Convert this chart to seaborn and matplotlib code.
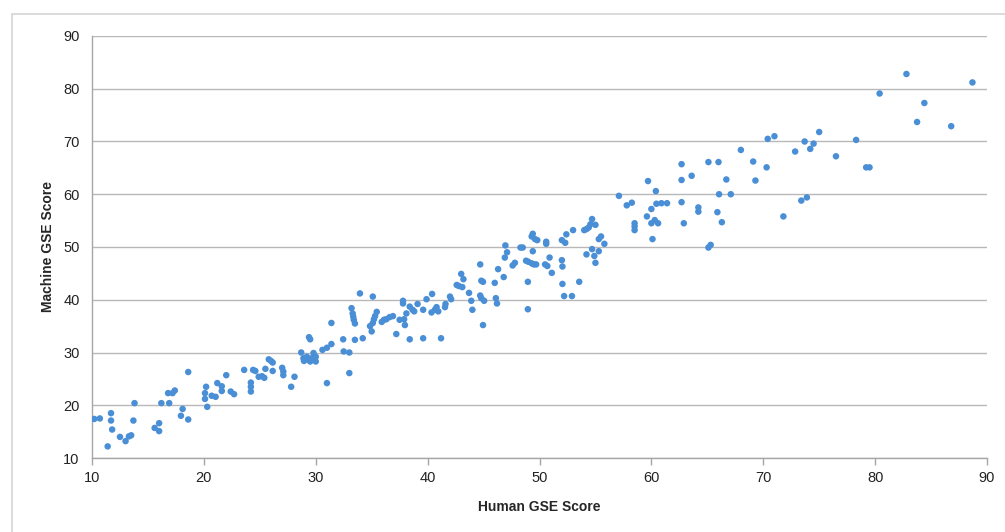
import matplotlib
matplotlib.use("Agg")
import matplotlib.pyplot as plt
import seaborn as sns
import pandas as pd
from matplotlib.patches import Rectangle

human = [
    10.2, 10.7, 11.4, 11.7, 11.7, 11.8, 12.5, 13.0, 13.3, 13.5, 13.7, 13.8,
    15.6, 16.0, 16.0, 16.2, 16.8, 16.9, 17.2, 17.4, 17.95, 18.1, 18.6, 18.6,
    20.1, 20.1, 20.2, 20.3, 20.7, 21.05, 21.2, 21.6, 21.6, 22.0, 22.4, 22.7,
    23.6, 24.2, 24.2, 24.2, 24.4, 24.6, 24.9, 25.2, 25.4, 25.5, 25.8, 26.0,
    26.15, 26.15, 27.0, 27.1, 27.1, 27.8, 28.1, 28.7, 28.9, 28.95, 29.2, 29.3,
    29.5, 29.6, 29.8, 30.0, 30.0, 29.4, 29.5, 30.6, 31.0, 31.4, 31.0, 31.4,
    32.45, 32.5, 33.0, 33.0, 33.2, 33.3, 33.35, 33.4, 33.5, 33.5, 33.95, 34.2,
    35.0, 34.85, 35.1, 35.2, 35.3, 35.45, 35.1, 35.9, 36.1, 36.3, 36.6, 36.9,
    37.2, 37.5, 37.8, 37.8, 37.9, 37.97, 38.1, 38.4, 38.65, 38.4, 38.8, 39.1,
    39.6, 39.6, 39.9, 40.35, 40.4, 40.65, 40.8, 40.95, 41.2, 41.55, 41.6, 42.0,
    42.1, 42.6, 42.8, 43.0, 43.2, 43.1, 43.7, 43.9, 44.0, 44.7, 44.7, 44.8,
    44.95, 44.8, 44.95, 45.05, 46.0, 46.1, 46.2, 46.3, 46.8, 46.9, 46.95, 47.1,
    47.6, 47.8, 48.3, 48.5, 48.8, 49.0, 49.3, 49.5, 49.7, 48.96, 48.96, 49.4,
    49.3, 49.6, 49.4, 49.8, 50.5, 50.7, 50.6, 50.6, 50.9, 51.1, 52.0, 52.3,
    52.4, 52.0, 52.05, 52.05, 52.2, 52.9, 53.0, 53.55, 54.0, 54.2, 54.4, 54.7,
    54.55, 55.0, 54.2, 54.7, 54.9, 55.0, 55.3, 55.5, 55.3, 55.8, 57.1, 57.8,
    58.25, 58.5, 58.5, 58.5, 59.7, 59.6, 60.0, 60.1, 60.0, 60.3, 60.6, 60.4,
    60.45, 60.9, 61.4, 62.7, 62.7, 62.9, 62.7, 63.6, 64.2, 64.2, 65.1, 66.0,
    65.1, 65.3, 65.9, 66.05, 66.3, 66.7, 67.1, 68.0, 69.1, 69.3, 70.3, 70.4,
    71.0, 71.8, 72.85, 73.4, 73.9, 73.7, 74.2, 74.5, 75.0, 76.5, 78.3, 79.2,
    79.5, 80.4, 82.8, 83.75, 84.4, 86.8, 88.7,
]
machine = [
    17.4, 17.5, 12.2, 18.5, 17.1, 15.4, 14.0, 13.2, 14.1, 14.3, 17.1, 20.4,
    15.7, 16.6, 15.1, 20.4, 22.3, 20.4, 22.3, 22.8, 18.0, 19.3, 17.3, 26.3,
    22.3, 21.2, 23.5, 19.7, 21.8, 21.6, 24.2, 23.6, 22.7, 25.7, 22.6, 22.1,
    26.7, 24.3, 23.5, 22.6, 26.7, 26.5, 25.4, 25.5, 25.2, 26.9, 28.7, 28.4,
    28.1, 26.5, 27.1, 26.4, 25.7, 23.5, 25.4, 30.0, 28.9, 28.4, 29.2, 28.7,
    28.3, 28.9, 29.9, 29.2, 28.3, 32.9, 32.5, 30.5, 30.9, 31.6, 24.2, 35.6,
    32.5, 30.2, 30.0, 26.1, 38.4, 37.4, 36.8, 36.2, 35.5, 32.4, 41.2, 32.7,
    34.0, 35.0, 35.6, 36.3, 36.9, 37.7, 40.6, 35.8, 36.2, 36.3, 36.7, 36.9,
    33.5, 36.2, 39.8, 39.3, 36.3, 35.2, 37.4, 38.7, 38.1, 32.5, 37.8, 39.2,
    38.1, 32.7, 40.1, 37.6, 41.1, 38.1, 38.6, 37.8, 32.7, 38.6, 39.2, 40.6,
    40.1, 42.8, 42.6, 44.9, 43.9, 42.4, 41.3, 39.8, 38.1, 46.7, 40.8, 43.6,
    43.4, 40.3, 35.2, 39.8, 43.2, 40.3, 39.3, 45.8, 44.3, 48.0, 50.3, 49.0,
    46.5, 47.0, 49.9, 49.9, 47.4, 47.2, 46.9, 46.7, 46.7, 43.4, 38.2, 52.5,
    52.0, 51.5, 49.2, 51.3, 46.7, 46.4, 51.0, 50.6, 48.0, 45.1, 51.3, 50.8,
    52.4, 47.5, 46.3, 43.0, 40.7, 40.7, 53.2, 43.4, 53.2, 53.4, 53.7, 55.3,
    54.3, 54.2, 48.6, 49.6, 48.3, 47.0, 51.5, 52.0, 49.2, 50.6, 59.7, 57.9,
    58.4, 54.5, 53.9, 53.2, 62.5, 55.8, 57.2, 51.5, 54.5, 55.1, 54.5, 60.6,
    58.2, 58.3, 58.3, 62.7, 58.5, 54.5, 65.7, 63.5, 57.5, 56.7, 66.1, 66.1,
    49.9, 50.4, 56.6, 60.0, 54.7, 62.8, 60.0, 68.4, 66.2, 62.6, 65.1, 70.5,
    71.0, 55.8, 68.1, 58.8, 59.4, 70.0, 68.6, 69.6, 71.8, 67.2, 70.3, 65.1,
    65.1, 79.1, 82.8, 73.7, 77.3, 72.9, 81.2,
]
x_ticks = [10, 20, 30, 40, 50, 60, 70, 80, 90]
y_ticks = [10, 20, 30, 40, 50, 60, 70, 80, 90]

df = pd.DataFrame({"Human GSE Score": human, "Machine GSE Score": machine})

sns.set_style("white")
plt.rcParams['font.family'] = ['Liberation Sans', 'DejaVu Sans']

fig = plt.figure(figsize=(10.05, 5.32), dpi=100)
ax = fig.add_axes([92/1005, (532-458)/532, (987-92)/1005, (458-36)/532])

# outer frame like the original chart border
fig.patches.append(Rectangle((12/1005, -0.05), 1.1, (532-14)/532 + 0.05,
                             transform=fig.transFigure, fill=False,
                             edgecolor='#d4d4d4', linewidth=1.2, zorder=0))

sns.scatterplot(data=df, x="Human GSE Score", y="Machine GSE Score", ax=ax,
                color='#4a8fd6', s=22, edgecolor='none', linewidth=0, zorder=3)

ax.set_xlim(10, 90)
ax.set_ylim(10, 90)
ax.set_xticks(x_ticks)
ax.set_yticks(y_ticks)
ax.set_xticklabels([str(t) for t in x_ticks])
ax.set_yticklabels([str(t) for t in y_ticks])
ax.yaxis.grid(True, color='#b8b8b8', linewidth=1.0)
ax.xaxis.grid(False)
ax.set_axisbelow(True)

for side in ['top', 'right']:
    ax.spines[side].set_visible(False)
for side in ['left', 'bottom']:
    ax.spines[side].set_color('#a6a6a6')
    ax.spines[side].set_linewidth(1.0)

ax.tick_params(axis='x', length=5, width=1, color='#a6a6a6', labelsize=10.5,
               labelcolor='#222222', pad=4, direction='out', bottom=True)
ax.tick_params(axis='y', length=0, labelsize=10.5, labelcolor='#222222', pad=9)

ax.set_xlabel("Human GSE Score", fontsize=10, fontweight='bold', labelpad=11)
ax.set_ylabel("Machine GSE Score", fontsize=10, fontweight='bold', labelpad=6)

fig.savefig("out.png", dpi=100)
